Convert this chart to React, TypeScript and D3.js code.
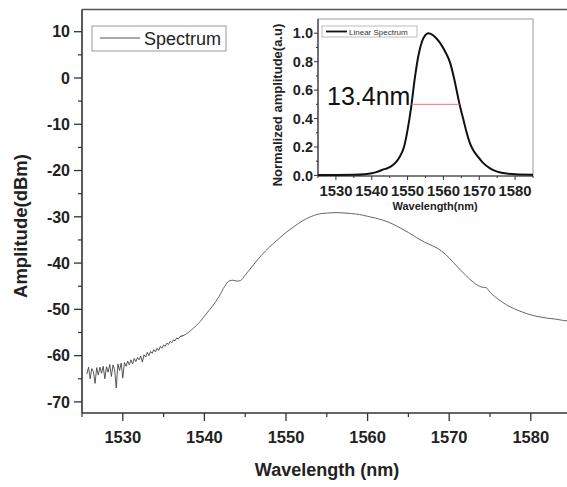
import React from "react";
import * as d3 from "d3";

// ---------- data ----------
// Main spectrum (dBm) – noisy low-wavelength region
const noisyWl = [1525.6,1525.8,1526.0,1526.2,1526.4,1526.6,1526.8,1527.0,1527.2,1527.4,1527.6,1527.8,1528.0,1528.2,1528.4,1528.6,1528.8,1529.0,1529.2,1529.4,1529.6,1529.8,1530.0,1530.2,1530.4,1530.6,1530.8,1531.0,1531.2,1531.4,1531.6,1531.8,1532.0,1532.2,1532.4,1532.6,1532.8,1533.0,1533.2,1533.4,1533.6,1533.8,1534.0,1534.2,1534.4,1534.6,1534.8,1535.0,1535.2,1535.4,1535.6,1535.8,1536.0,1536.2,1536.4,1536.6,1536.8,1537.0];
const noisyDbm = [-64.0,-62.5,-65.0,-62.8,-63.5,-66.0,-62.6,-64.2,-62.5,-63.8,-62.3,-65.0,-62.4,-63.6,-61.9,-64.5,-62.0,-63.0,-67.0,-61.8,-63.2,-61.6,-64.8,-61.5,-62.3,-61.2,-62.0,-60.9,-61.8,-60.6,-61.3,-60.4,-60.9,-60.1,-61.4,-59.8,-60.3,-59.3,-60.0,-59.1,-59.5,-58.7,-59.2,-58.4,-58.9,-58.0,-58.4,-57.7,-58.0,-57.3,-57.6,-56.9,-57.2,-56.6,-56.8,-56.2,-56.4,-55.9];
// Main spectrum – smooth region
const smoothWl = [1537.5,1538.5,1539.5,1540.3,1541,1541.8,1542.5,1543,1543.5,1544,1544.4,1545,1546,1547,1548,1549,1550,1551,1552,1553,1554,1555,1556,1557,1558,1559,1560,1561,1562,1563,1564,1565,1566,1567,1568,1569,1570,1571,1572,1573,1574,1574.5,1575,1576,1577,1578,1579,1580,1581,1582,1583,1584,1585];
const smoothDbm = [-55.6,-54.3,-52.6,-50.8,-49.3,-47.2,-45.0,-43.9,-43.7,-43.9,-43.8,-42.6,-40.4,-38.3,-36.5,-34.9,-33.4,-32.1,-30.9,-30.0,-29.4,-29.2,-29.1,-29.15,-29.3,-29.5,-29.9,-30.3,-30.8,-31.5,-32.4,-33.4,-34.5,-35.5,-36.3,-37.3,-38.9,-40.8,-42.6,-44.2,-45.2,-45.3,-46.3,-47.8,-49.0,-49.9,-50.6,-51.2,-51.6,-51.9,-52.1,-52.4,-52.6];

// Inset linear spectrum
const insetWl = [1525,1530,1535,1538,1540,1541.5,1543,1544.3,1545.5,1547,1548,1549,1550,1551,1552,1553,1554,1554.9,1555.7,1556.5,1558,1559.1,1560.5,1561.9,1563,1564,1564.5,1565.5,1566.5,1567.5,1568.5,1569.4,1571,1573,1575,1576.7,1580,1585];
const insetAmp = [0.003,0.003,0.004,0.008,0.015,0.025,0.04,0.05,0.065,0.1,0.14,0.2,0.32,0.48,0.68,0.84,0.94,0.985,1.0,0.995,0.965,0.93,0.87,0.79,0.68,0.56,0.5,0.4,0.3,0.22,0.17,0.14,0.09,0.05,0.027,0.017,0.008,0.005];
const fwhm = [1551.1, 1564.5];
const fwhmLevel = 0.5;

const mainXTicks = [1530, 1540, 1550, 1560, 1570, 1580];
const mainXMinor = [1525, 1535, 1545, 1555, 1565, 1575, 1585];
const mainYTicks = [10, 0, -10, -20, -30, -40, -50, -60, -70];
const mainYMinor = [5, -5, -15, -25, -35, -45, -55, -65];
const insetXTicks = [1530, 1540, 1550, 1560, 1570, 1580];
const insetXMinor = [1525, 1535, 1545, 1555, 1565, 1575, 1585];
const insetYTicks = [0, 0.2, 0.4, 0.6, 0.8, 1.0];
const insetYMinor = [0.1, 0.3, 0.5, 0.7, 0.9];

export default function App() {
  const W = 567, H = 487;
  const x = d3.scaleLinear().domain([1525, 1585]).range([82, 571.6]);
  const y = d3.scaleLinear().domain([-72.4, 14.8]).range([413, 9.5]);
  const ix = d3.scaleLinear().domain([1525, 1585]).range([318, 533]);
  const iy = d3.scaleLinear().domain([-0.004, 1.1]).range([176, 19]);

  const mainPts: [number, number][] = [
    ...noisyWl.map((w, i) => [w, noisyDbm[i]] as [number, number]),
    ...smoothWl.map((w, i) => [w, smoothDbm[i]] as [number, number]),
  ];
  const noisyLine = d3.line<[number, number]>().x(d => x(d[0])).y(d => y(d[1]));
  const smoothLine = d3.line<[number, number]>().x(d => x(d[0])).y(d => y(d[1])).curve(d3.curveMonotoneX);
  const noisyPart = mainPts.slice(0, noisyWl.length + 1);
  const smoothPart = mainPts.slice(noisyWl.length - 1);

  const insetPts: [number, number][] = insetWl.map((w, i) => [w, insetAmp[i]]);
  const insetLine = d3.line<[number, number]>().x(d => ix(d[0])).y(d => iy(d[1])).curve(d3.curveMonotoneX);

  const font = "'Liberation Sans', Arial, sans-serif";
  const axisCol = "#333";

  return (
    <svg width={W} height={H} style={{ position: "absolute", left: 0, top: 0, background: "#fff" }} fontFamily={font}>
      <rect x={0} y={0} width={W} height={H} fill="#fff" />
      {/* main frame */}
      <line x1={82} x2={W} y1={9.5} y2={9.5} stroke="#555" strokeWidth={1.6} />
      <line x1={82} x2={82} y1={9.5} y2={413} stroke={axisCol} strokeWidth={1.6} />
      <line x1={82} x2={W} y1={413} y2={413} stroke={axisCol} strokeWidth={1.6} />

      {/* main y ticks */}
      {mainYTicks.map(t => (
        <g key={"my" + t}>
          <line x1={74} x2={82} y1={y(t)} y2={y(t)} stroke={axisCol} strokeWidth={1.3} />
          <text x={70} y={y(t)} dy="0.36em" textAnchor="end" fontSize={16} fontWeight="bold" fill="#222">{t}</text>
        </g>
      ))}
      {mainYMinor.map(t => (
        <line key={"mym" + t} x1={78} x2={82} y1={y(t)} y2={y(t)} stroke={axisCol} strokeWidth={1.2} />
      ))}
      {/* main x ticks */}
      {mainXTicks.map(t => (
        <g key={"mx" + t}>
          <line x1={x(t)} x2={x(t)} y1={413} y2={421} stroke={axisCol} strokeWidth={1.3} />
          <text x={x(t)} y={443} textAnchor="middle" fontSize={16.5} fontWeight="bold" fill="#222">{t}</text>
        </g>
      ))}
      {mainXMinor.map(t => (
        <line key={"mxm" + t} x1={x(t)} x2={x(t)} y1={413} y2={417} stroke={axisCol} strokeWidth={1.2} />
      ))}

      {/* axis titles */}
      <text transform="translate(27,226) rotate(-90)" textAnchor="middle" fontSize={18.5} fontWeight="bold" fill="#222">Amplitude(dBm)</text>
      <text x={327} y={476} textAnchor="middle" fontSize={18} fontWeight="bold" fill="#222">Wavelength (nm)</text>

      {/* main curve */}
      <path d={noisyLine(noisyPart) || ""} fill="none" stroke="#444" strokeWidth={0.9} />
      <path d={smoothLine(smoothPart) || ""} fill="none" stroke="#666" strokeWidth={1} />

      {/* main legend */}
      <rect x={92} y={26} width={134} height={25} fill="#fff" stroke="#999" strokeWidth={1} />
      <line x1={100} x2={140} y1={38} y2={38} stroke="#555" strokeWidth={1} />
      <text x={144} y={45} fontSize={18} fill="#222">Spectrum</text>

      {/* inset */}
      <rect x={318} y={19} width={215} height={157} fill="#fff" stroke="#999" strokeWidth={1} />
      <line x1={318} x2={318} y1={19} y2={176} stroke="#333" strokeWidth={1.2} />
      <line x1={318} x2={533} y1={176} y2={176} stroke="#333" strokeWidth={1.2} />
      {insetYTicks.map(t => (
        <g key={"iy" + t}>
          <line x1={314} x2={318} y1={iy(t)} y2={iy(t)} stroke="#333" strokeWidth={1} />
          <text x={313} y={iy(t)} dy="0.36em" textAnchor="end" fontSize={14.5} fontWeight="bold" fill="#222">{t.toFixed(1)}</text>
        </g>
      ))}
      {insetYMinor.map(t => (
        <line key={"iym" + t} x1={316} x2={318} y1={iy(t)} y2={iy(t)} stroke="#333" strokeWidth={1} />
      ))}
      {insetXTicks.map(t => (
        <g key={"ix" + t}>
          <line x1={ix(t)} x2={ix(t)} y1={176} y2={180} stroke="#333" strokeWidth={1} />
          <text x={ix(t)} y={196} textAnchor="middle" fontSize={14.5} fontWeight="bold" fill="#222" textLength={33} lengthAdjust="spacingAndGlyphs">{t}</text>
        </g>
      ))}
      {insetXMinor.map(t => (
        <line key={"ixm" + t} x1={ix(t)} x2={ix(t)} y1={176} y2={178} stroke="#333" strokeWidth={1} />
      ))}
      <text transform="translate(282,105) rotate(-90)" textAnchor="middle" fontSize={13} fontWeight="bold" fill="#222">Normalized amplitude(a.u)</text>
      <text x={435} y={210} textAnchor="middle" fontSize={11} fontWeight="bold" fill="#222">Wavelength(nm)</text>

      <path d={insetLine(insetPts) || ""} fill="none" stroke="#111" strokeWidth={2} />
      <line x1={ix(fwhm[0])} x2={ix(fwhm[1])} y1={iy(fwhmLevel)} y2={iy(fwhmLevel)} stroke="#f07070" strokeWidth={1} />
      <text x={327} y={105} fontSize={25} fill="#111">13.4nm</text>

      {/* inset legend */}
      <rect x={322} y={26} width={95} height={11} fill="#fff" stroke="#aaa" strokeWidth={0.8} />
      <line x1={326} x2={347} y1={31.5} y2={31.5} stroke="#111" strokeWidth={1.8} />
      <text x={349} y={34.5} fontSize={8} fill="#333">Linear Spectrum</text>
    </svg>
  );
}
